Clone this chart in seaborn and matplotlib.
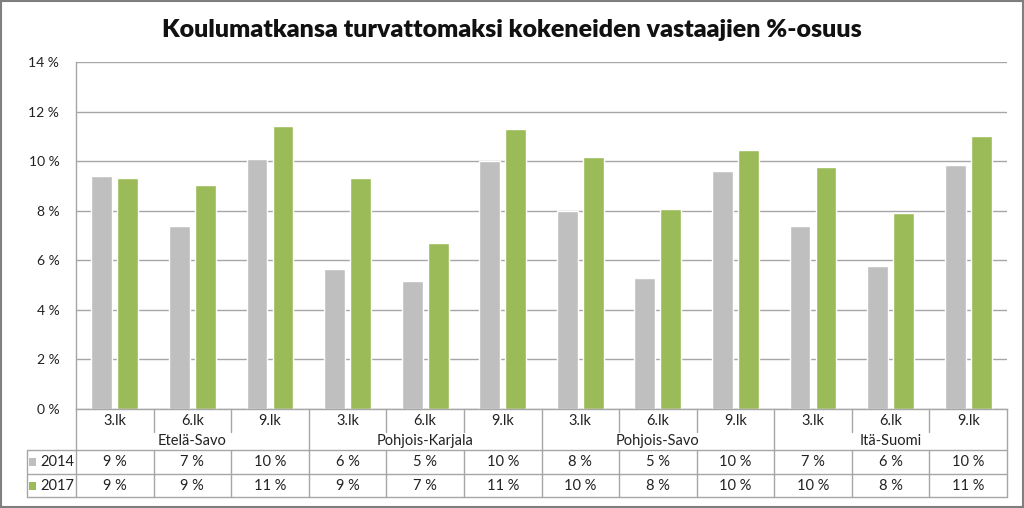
import matplotlib
matplotlib.use("Agg")
import matplotlib.pyplot as plt
import seaborn as sns
import pandas as pd
from matplotlib.lines import Line2D
from matplotlib.patches import Rectangle
from matplotlib.transforms import blended_transform_factory

# data
regions = ["Etelä-Savo", "Pohjois-Karjala", "Pohjois-Savo", "Itä-Suomi"]
grades = ["3.lk", "6.lk", "9.lk"]
years = ["2014", "2017"]
v2014 = [9.4, 7.4, 10.1, 5.65, 5.15, 10.0, 8.0, 5.3, 9.6, 7.4, 5.75, 9.85]
v2017 = [9.3, 9.05, 11.4, 9.3, 6.7, 11.3, 10.15, 8.05, 10.45, 9.75, 7.9, 11.0]
yticks = [0, 2, 4, 6, 8, 10, 12, 14]
title = "Koulumatkansa turvattomaksi kokeneiden vastaajien %-osuus"

gray = "#bfbfbf"
green = "#9bbb59"
linec = "#a6a6a6"

keys = [r + " " + g for r in regions for g in grades]
df = pd.DataFrame({
    "key": keys * 2,
    "year": ["2014"] * 12 + ["2017"] * 12,
    "value": v2014 + v2017,
})

sns.set_style("white")
plt.rcParams["font.family"] = ["Lato", "DejaVu Sans"]

W, H = 1024, 508
fig = plt.figure(figsize=(W / 100, H / 100), dpi=100)
ax = fig.add_axes([76 / W, 1 - 409 / H, (1007 - 76) / W, (409 - 62) / H])

sns.barplot(data=df, x="key", y="value", hue="year", order=keys, hue_order=years,
            palette=[gray, green], width=0.67, gap=0.2, saturation=1,
            legend=False, ax=ax)

ax.set_xlim(-0.5, 11.5)
ax.set_ylim(0, 14)
ax.set_yticks(yticks)
ax.set_yticklabels([f"{t} %" for t in yticks], fontsize=10, color="#222222")
ax.yaxis.grid(True, color=linec, lw=1)
ax.set_axisbelow(True)
ax.tick_params(axis="x", length=0, labelbottom=False)
ax.tick_params(axis="y", length=0, pad=12)
ax.set_xlabel("")
ax.set_ylabel("")
for s in ["top", "right"]:
    ax.spines[s].set_visible(False)
for s in ["left", "bottom"]:
    ax.spines[s].set_color(linec)
    ax.spines[s].set_linewidth(1)

# data table below the chart
tr = blended_transform_factory(ax.transData, fig.transFigure)
fy = lambda py: 1 - py / H
fx = lambda px: px / W
fs = 10.5

def vline(x, y0, y1):
    fig.add_artist(Line2D([x, x], [fy(y0), fy(y1)], transform=tr, color=linec, lw=1))

def hline_fig(x0, x1, y):
    fig.add_artist(Line2D([fx(x0), fx(x1)], [fy(y), fy(y)], transform=fig.transFigure,
                          color=linec, lw=1))

for i in range(13):
    xb = i - 0.5
    if i % 3 == 0:
        vline(xb, 409, 497)
    else:
        vline(xb, 409, 432)
        vline(xb, 450, 497)

hline_fig(27, 1007, 450)
hline_fig(27, 1007, 474)
hline_fig(27, 1007, 497)
fig.add_artist(Line2D([fx(27), fx(27)], [fy(450), fy(497)], transform=fig.transFigure,
                      color=linec, lw=1))

for i, k in enumerate(keys):
    g = grades[i % 3]
    fig.text(i, fy(421), g, transform=tr, ha="center", va="center", fontsize=fs, color="#222222")
    fig.text(i, fy(462), f"{round(v2014[i])} %", transform=tr, ha="center", va="center",
             fontsize=fs, color="#222222")
    fig.text(i, fy(486), f"{round(v2017[i])} %", transform=tr, ha="center", va="center",
             fontsize=fs, color="#222222")
for j, r in enumerate(regions):
    fig.text(3 * j + 1, fy(441), r, transform=tr, ha="center", va="center", fontsize=fs,
             color="#222222")

# legend keys in the table
for yr, col, yc in [("2014", gray, 462), ("2017", green, 486)]:
    fig.add_artist(Rectangle((fx(29), fy(yc + 4)), 7 / W, 8 / H, transform=fig.transFigure,
                             facecolor=col, edgecolor="none"))
    fig.text(fx(40), fy(yc), yr, ha="left", va="center", fontsize=fs, color="#222222")

fig.text(0.5, fy(30), title, ha="center", va="center", fontsize=18, fontweight="heavy",
         color="#111111")

# outer frame
fig.add_artist(Rectangle((1 / W, 1 / H), (W - 2) / W, (H - 2) / H, transform=fig.transFigure,
                         facecolor="none", edgecolor="#7f7f7f", lw=1.5))

fig.savefig("out.png", dpi=100)
